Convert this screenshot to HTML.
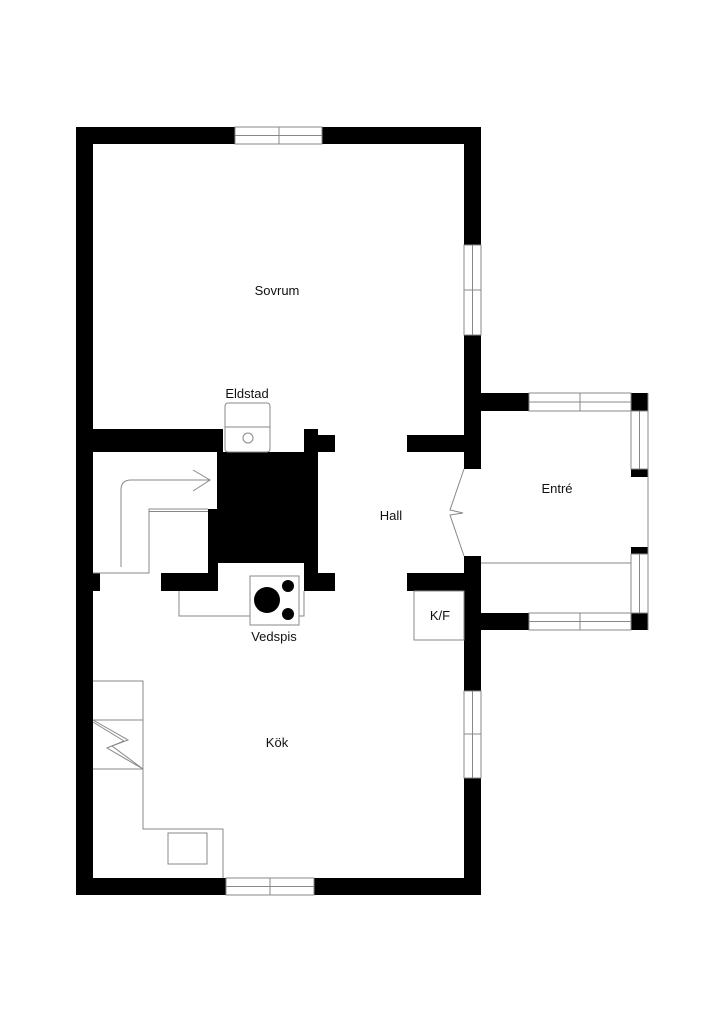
<!DOCTYPE html>
<html><head><meta charset="utf-8"><style>
html,body{margin:0;padding:0;background:#fff}
svg{display:block}
text{font-family:"Liberation Sans",sans-serif;font-size:13px;fill:#111;text-anchor:middle}
</style></head><body>
<svg width="724" height="1024" viewBox="0 0 724 1024" xmlns="http://www.w3.org/2000/svg">
<g fill="#000">
<!-- outer walls -->
<rect x="76" y="127" width="405" height="17"/>
<rect x="76" y="127" width="17" height="768"/>
<rect x="76" y="878" width="405" height="17"/>
<rect x="464" y="127" width="17" height="342"/>
<rect x="464" y="556" width="17" height="339"/>
<!-- interior -->
<rect x="93" y="429" width="130" height="23"/>
<rect x="217" y="452" width="101" height="111"/>
<rect x="208" y="509" width="10" height="82"/>
<rect x="304" y="429" width="14" height="23"/>
<rect x="304" y="435" width="31" height="17"/>
<rect x="161" y="573" width="56" height="18"/>
<rect x="304" y="563" width="14" height="12"/>
<rect x="304" y="573" width="31" height="18"/>
<rect x="93" y="573" width="7" height="18"/>
<rect x="407" y="435" width="57" height="17"/>
<rect x="407" y="573" width="57" height="18"/>
<!-- entre -->
<rect x="481" y="393" width="48" height="18"/>
<rect x="631" y="393" width="17" height="18"/>
<rect x="631" y="469" width="17" height="8"/>
<rect x="631" y="547" width="17" height="7"/>
<rect x="481" y="613" width="48" height="17"/>
<rect x="631" y="613" width="17" height="17"/>
</g>
<g fill="#fff" stroke="#888" stroke-width="1">
<!-- windows -->
<rect x="235" y="127" width="87" height="17"/><line x1="235" y1="135.5" x2="322" y2="135.5"/><line x1="279" y1="127" x2="279" y2="144"/>
<rect x="464" y="245" width="17" height="90"/><line x1="472.5" y1="245" x2="472.5" y2="335"/><line x1="464" y1="290" x2="481" y2="290"/>
<rect x="464" y="691" width="17" height="87"/><line x1="472.5" y1="691" x2="472.5" y2="778"/><line x1="464" y1="734" x2="481" y2="734"/>
<rect x="226" y="878" width="88" height="17"/><line x1="226" y1="886.5" x2="314" y2="886.5"/><line x1="270" y1="878" x2="270" y2="895"/>
<rect x="529" y="393" width="102" height="18"/><line x1="529" y1="402" x2="631" y2="402"/><line x1="580" y1="393" x2="580" y2="411"/>
<rect x="529" y="613" width="102" height="17"/><line x1="529" y1="621.5" x2="631" y2="621.5"/><line x1="580" y1="613" x2="580" y2="630"/>
<rect x="631" y="411" width="17" height="58"/><line x1="639.5" y1="411" x2="639.5" y2="469"/>
<rect x="631" y="554" width="17" height="59"/><line x1="639.5" y1="554" x2="639.5" y2="613"/>
<!-- eldstad -->
<rect x="225" y="403" width="45" height="49" rx="3"/>
<line x1="225" y1="427" x2="270" y2="427"/>
<circle cx="248" cy="438" r="5"/>
<!-- vedspis -->
<rect x="250" y="576" width="49" height="49"/>
</g>
<g fill="none" stroke="#888" stroke-width="1">
<line x1="648" y1="393" x2="648" y2="630"/>
<line x1="481" y1="563" x2="631" y2="563"/>
<path d="M121 567 V490 Q121 480 131 480 H210 M193 470 L210 480 L193 491"/>
<path d="M93 573 H149 V509 H208 M149 511.5 H208"/>
<path d="M179 591 V616 H250 M299 616 H304 V591"/>
<path d="M464 469 L450 510 L463 513 L450 515 L464 556"/>
<rect x="414" y="591" width="50" height="49"/>
<path d="M93 681 H143 V829 H223 V878 M93 720 H143 M93 769 H143"/>
<rect x="168" y="833" width="39" height="31"/>
<path d="M93 720 L128 740 L112 746 L143 769 M93 722 L124 741 L107 748 L143 769"/>
</g>
<g fill="#000">
<circle cx="267" cy="600" r="13"/>
<circle cx="288" cy="586" r="6"/>
<circle cx="288" cy="614" r="6"/>
</g>
<text x="277" y="295">Sovrum</text>
<text x="247" y="398">Eldstad</text>
<text x="391" y="520">Hall</text>
<text x="557" y="493">Entré</text>
<text x="274" y="641">Vedspis</text>
<text x="277" y="747">Kök</text>
<text x="440" y="620">K/F</text>
</svg>
</body></html>
